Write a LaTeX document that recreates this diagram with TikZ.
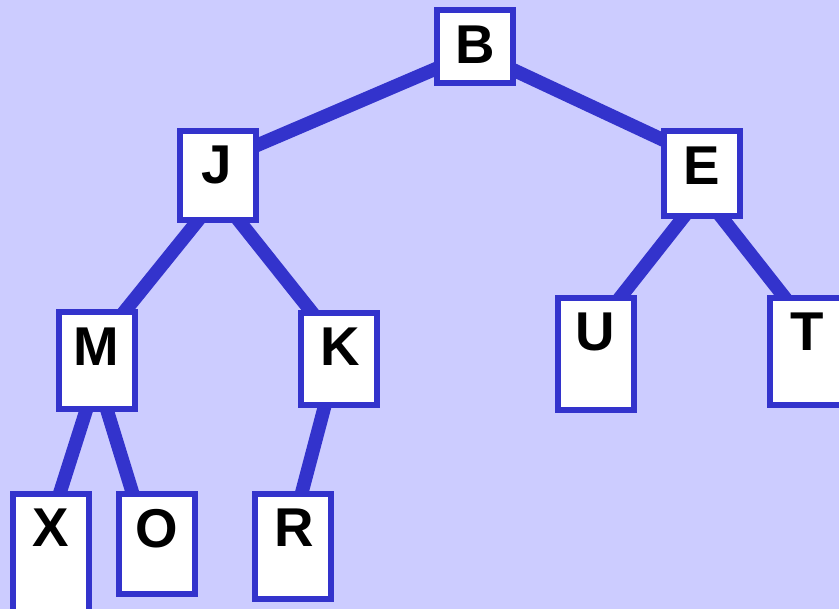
\documentclass[tikz,border=0pt]{standalone}
\usepackage{fontspec}
\setmainfont{Liberation Sans}
\definecolor{bgc}{RGB}{204,204,255}
\definecolor{blu}{RGB}{51,51,204}
\pgfdeclarelayer{bgl}
\pgfdeclarelayer{edges}
\pgfsetlayers{bgl,edges,main}
\begin{document}
\begin{tikzpicture}[x=0.75pt,y=-0.75pt,
  box/.style={draw=blu, line width=4.4pt, fill=white, inner sep=0pt, minimum width=57pt},
  lbl/.style={inner sep=0pt, text height=29.4pt, text depth=0pt, font=\fontsize{41}{41}\selectfont\bfseries},
  edge/.style={draw=blu, line width=10.2pt}]
\useasboundingbox (0,0) rectangle (839,609);
\clip (0,0) rectangle (839,609);
\begin{pgfonlayer}{bgl}
\fill[bgc] (0,0) rectangle (839,609);
\end{pgfonlayer}
% boxes
\node[box, minimum height=54.75pt] (B) at (475,46.5) {};
\node[box, minimum height=66.75pt] (J) at (218,175.5) {};
\node[box, minimum height=63.75pt] (E) at (701.7,173.8) {};
\node[box, minimum height=72.3pt] (M) at (96.7,360.5) {};
\node[box, minimum height=69.2pt] (K) at (338.8,359.2) {};
\node[box, minimum height=84pt] (U) at (595.8,353.7) {};
\node[box, minimum height=80.7pt] (T) at (807.7,351.5) {};
\node[box, minimum height=97.5pt] (X) at (51.3,559) {};
\node[box, minimum height=75.2pt] (O) at (156.8,544.2) {};
\node[box, minimum height=78.5pt] (R) at (293.3,546.3) {};
% labels
\node[lbl] (Bl) at (475,43.5) {B};
\node[lbl] (Jl) at (217,164) {J};
\node[lbl] (El) at (701.7,165) {E};
\node[lbl] (Ml) at (96.5,346) {M};
\node[lbl] (Kl) at (340,346) {K};
\node[lbl] (Ul) at (595.3,331) {U};
\node[lbl] (Tl) at (807,331) {T};
\node[lbl] (Xl) at (50.7,527) {X};
\node[lbl] (Ol) at (157,527.5) {O};
\node[lbl] (Rl) at (294,527) {R};
% connector end points (hidden under the boxes)
\coordinate (Bo) at (475,52);
\coordinate (Jo) at (218.5,195);
\coordinate (Eo) at (702.5,193);
\coordinate (Mo) at (96.8,377);
\coordinate (Ko) at (339,352);
\coordinate (Ji) at (218,162);
\coordinate (Ei) at (701.7,158);
\coordinate (Mi) at (96.7,346);
\coordinate (Ki) at (338.7,346);
\coordinate (Ui) at (593.8,331);
\coordinate (Ti) at (811,331);
\coordinate (Xi) at (49,527);
\coordinate (Oi) at (143,527);
\coordinate (Ri) at (292.7,527);
\begin{pgfonlayer}{edges}
\draw[edge] (Bo) -- (Ji);
\draw[edge] (Bo) -- (Ei);
\draw[edge] (Jo) -- (Mi);
\draw[edge] (Jo) -- (Ki);
\draw[edge] (Eo) -- (Ui);
\draw[edge] (Eo) -- (Ti);
\draw[edge] (Mo) -- (Xi);
\draw[edge] (Mo) -- (Oi);
\draw[edge] (Ko) -- (Ri);
\end{pgfonlayer}
\end{tikzpicture}
\end{document}
